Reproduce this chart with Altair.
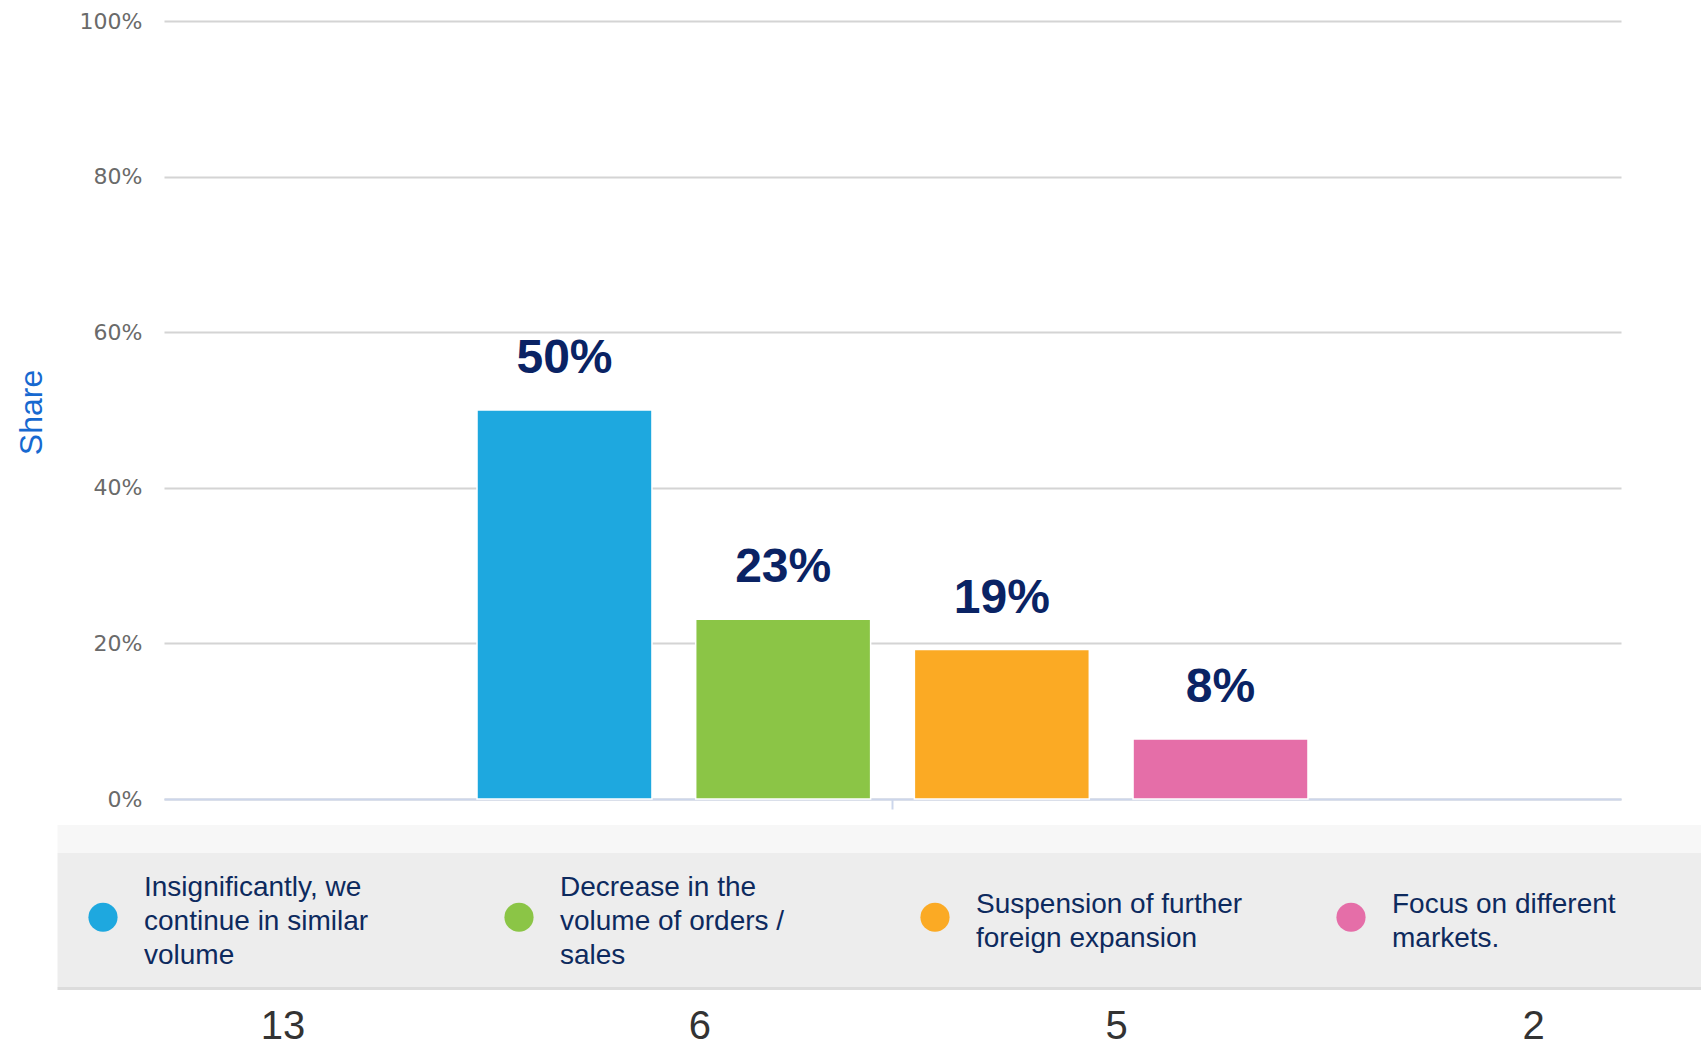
import altair as alt
import pandas as pd

# ---- data ----
series = [
    "Insignificantly, we\ncontinue in similar\nvolume",
    "Decrease in the\nvolume of orders /\nsales",
    "Suspension of further\nforeign expansion",
    "Focus on different\nmarkets.",
]
shares = [50.0, 23.1, 19.2, 7.7]
share_labels = ["50%", "23%", "19%", "8%"]
counts = ["13", "6", "5", "2"]
colors = ["#1ea8df", "#8bc546", "#fbaa24", "#e56ea8"]
label_color = "#0a2364"
y_ticks = [0, 20, 40, 60, 80, 100]

df = pd.DataFrame({
    "cat": ["all"] * len(series),
    "series": series,
    "share": shares,
    "label": share_labels,
    "count": counts,
})

W, H = 1457, 778
LEFT, TOP = 164, 21

base = alt.Chart(df)

# background panels of the legend area
panel = alt.Data(values=[{"k": 1}])
strip = alt.Chart(panel).mark_rect(color="#f7f7f7").encode(
    x=alt.value(57.5 - LEFT), x2=alt.value(1701 - LEFT),
    y=alt.value(825 - TOP), y2=alt.value(853 - TOP))
band = alt.Chart(panel).mark_rect(color="#ededed").encode(
    x=alt.value(57.5 - LEFT), x2=alt.value(1701 - LEFT),
    y=alt.value(853 - TOP), y2=alt.value(987 - TOP))
border = alt.Chart(panel).mark_rect(color="#dcdcdc").encode(
    x=alt.value(57.5 - LEFT), x2=alt.value(1701 - LEFT),
    y=alt.value(987 - TOP), y2=alt.value(990 - TOP))

x_enc = alt.X("cat:N", scale=alt.Scale(paddingInner=0, paddingOuter=0.3767),
              axis=alt.Axis(title=None, labels=False, ticks=True, tickSize=10,
                            tickColor="#ccd6eb", tickWidth=2, domainColor="#ccd6eb",
                            domainWidth=2, grid=False))
xoff = alt.XOffset("series:N", sort=series,
                   scale=alt.Scale(domain=series, paddingInner=0.2, paddingOuter=0))
y_enc = alt.Y("share:Q", scale=alt.Scale(domain=[0, 100], nice=False),
              axis=alt.Axis(values=y_ticks, labelExpr="datum.value + '%'",
                            title="Share", titleColor="#1769d0", titleFont="Liberation Sans",
                            titleFontSize=32, titleFontWeight="normal", titleAngle=270,
                            titleX=-133, titleY=391, titleAlign="center",
                            titleBaseline="middle",
                            labelFont="DejaVu Sans", labelFontSize=22, labelColor="#6a6a6a",
                            labelPadding=22, ticks=False, tickSize=0, domain=False,
                            grid=True, gridColor="#d4d4d4", gridWidth=2))

SYM = 850            # circle area -> ~29px diameter
STEP = 415           # distance between legend entries

common_legend = dict(orient="none", legendX=-76, direction="horizontal", columns=4,
                     symbolType="circle", symbolSize=SYM, symbolStrokeWidth=0,
                     labelFont="Liberation Sans", labelFontSize=28, labelLimit=0,
                     padding=0, title=None, gridAlign="all")

# legend row of coloured circles (no label text)
bars = base.mark_bar(stroke="white", strokeWidth=1.5).encode(
    x=x_enc,
    xOffset=xoff,
    y=y_enc,
    color=alt.Color("series:N", sort=series,
                    scale=alt.Scale(domain=series, range=colors),
                    legend=alt.Legend(legendY=881, labelExpr="''", labelOffset=0,
                                      columnPadding=STEP - 29, **common_legend)),
)

# value labels; their colour legend carries the multi-line legend texts
texts = base.mark_text(font="Liberation Sans", fontWeight="bold", fontSize=48,
                       baseline="alphabetic", dy=-37).encode(
    x=alt.X("cat:N"),
    xOffset=alt.XOffset("series:N", sort=series),
    y=alt.Y("share:Q"),
    text="label:N",
    color=alt.Color("series:N", sort=series,
                    scale=alt.Scale(domain=series, range=[label_color] * len(series)),
                    legend=alt.Legend(legendY=852, symbolOpacity=0, labelOffset=26,
                                      columnPadding=STEP - 322,
                                      labelColor="#0d2a5e",
                                      labelExpr="split(datum.label, '\\n')",
                                      **common_legend)),
)

count_text = base.mark_text(font="Liberation Sans", fontSize=40, color="#333333",
                            baseline="middle").encode(
    x=alt.X("series:N", sort=series, axis=None,
            scale=alt.Scale(domain=series, range=[-89.5, 1578],
                            paddingInner=0, paddingOuter=0)),
    y=alt.value(1027 - TOP),
    text="count:N",
)

main = alt.layer(bars, texts).resolve_scale(color="independent")

chart = alt.layer(strip, band, border, main, count_text).resolve_scale(
    x="independent"
).properties(
    width=W, height=H,
    autosize=alt.AutoSizeParams(type="none"),
    padding={"left": LEFT, "top": TOP, "right": 1701 - LEFT - W, "bottom": 1048 - TOP - H},
    background="white",
).configure(
    style={"guide-label": {"lineHeight": 33.6}}
).configure_view(stroke=None)

chart.save("out.html", embed_options={"renderer": "svg", "actions": False})
